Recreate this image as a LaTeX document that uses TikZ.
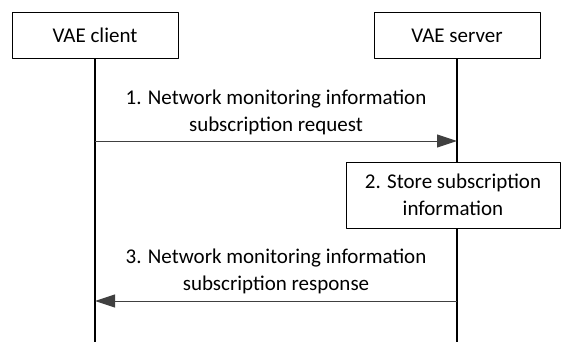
\documentclass[tikz,border=0pt]{standalone}
\usepackage{fontspec}
\setmainfont{Carlito}
\usetikzlibrary{arrows.meta,positioning}
\begin{document}
\begin{tikzpicture}[x=1pt,y=-1pt,>={Triangle[length=20pt,width=13pt]},line join=round,
		font=\fontsize{21}{27}\selectfont,
		entity/.style={draw,line width=1pt,fill=white,minimum width=166pt,minimum height=46pt,inner sep=0pt},
		msg/.style={->,draw=black!75,fill=black!75,line width=1pt},
		life/.style={line width=1.2pt}]
	\useasboundingbox (0,0) rectangle (561,342);
	\node[entity] (client) at (95,35.5) {VAE client};
	\node[entity] (server) at (457,36) {VAE server};
	\path
	(client.south |- 0,342) coordinate (cb)
	(server.south |- 0,342) coordinate (sb)
	(client.south |- 0,141) coordinate (c1)
	(server.south |- 0,141) coordinate (s1)
	(client.south |- 0,301) coordinate (c3)
	(server.south |- 0,301) coordinate (s3)
	;
	\draw[life] (client.south)--(cb);
	\draw[life] (server.south)--(sb);
	\node[entity,minimum width=214pt,minimum height=66pt,align=center] (store) at (453,195) {2. Store subscription\\information};
	\draw[msg] (c1)--(s1) node[midway,above=2.5pt,align=center,text=black] (m1) {1. Network monitoring information\\subscription request};
	\draw[msg] (s3)--(c3) node[midway,above=3pt,align=center,text=black] (m3) {3. Network monitoring information\\subscription response};
\end{tikzpicture}
\end{document}
